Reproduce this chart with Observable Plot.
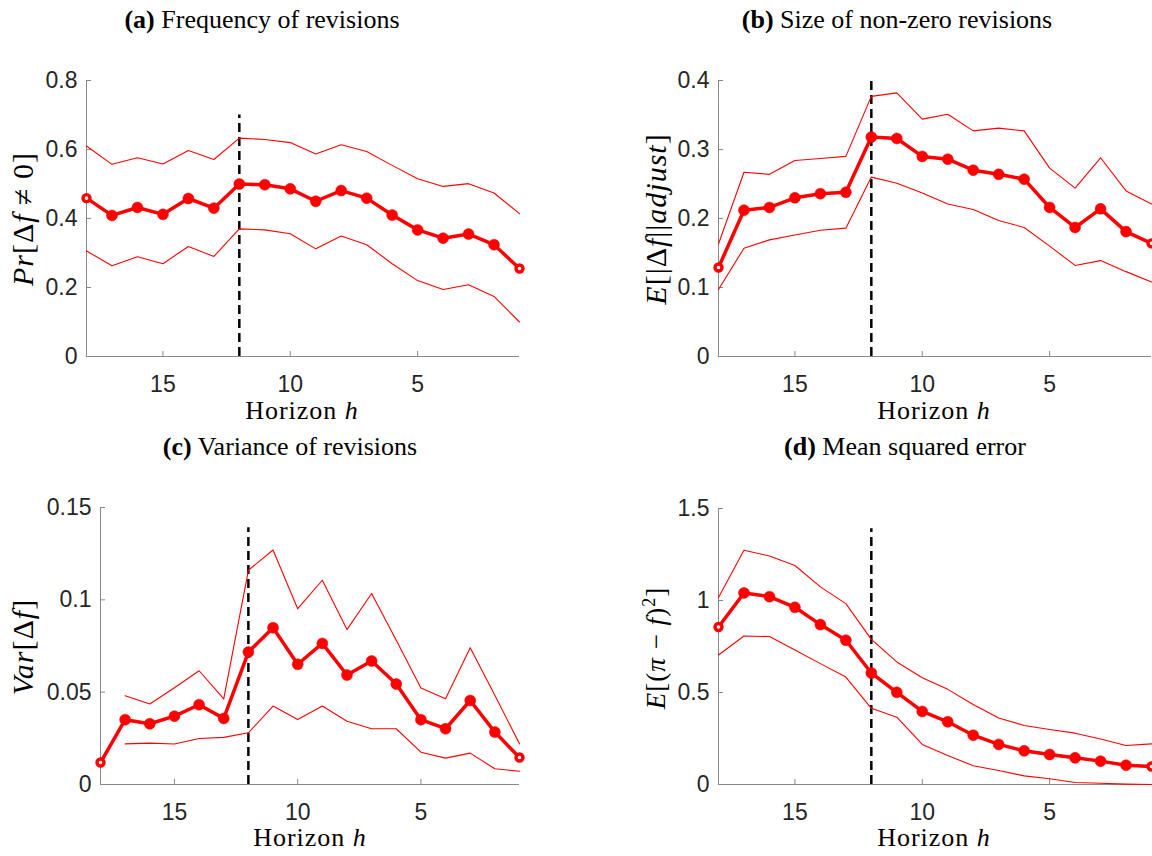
<!DOCTYPE html>
<html><head><meta charset="utf-8">
<script src="https://cdn.jsdelivr.net/npm/d3@7"></script>
<script src="https://cdn.jsdelivr.net/npm/@observablehq/plot@0.6"></script>
<style>
body{margin:0;background:#fff;}
#fig{position:relative;width:1152px;height:856px;overflow:hidden;background:#fff;}
.panel{position:absolute;}
.t{position:absolute;font-family:"Liberation Serif",serif;font-size:26px;color:#000;white-space:nowrap;transform:translate(-50%,-50%);line-height:0.9;}
.xl{letter-spacing:1px;}
.yl{transform:translate(-50%,-50%) rotate(-90deg);letter-spacing:1px;}
</style></head><body><div id="fig"></div>
<script>
// ---- data ----
const horizon = [18,17,16,15,14,13,12,11,10,9,8,7,6,5,4,3,2,1];
const xTicks = [15,10,5];
const breakHorizon = 12;

const freqMean  = [0.459,0.409,0.432,0.412,0.458,0.430,0.500,0.498,0.486,0.450,0.481,0.459,0.410,0.367,0.343,0.355,0.324,0.255];
const freqUpper = [0.610,0.557,0.576,0.558,0.597,0.571,0.633,0.629,0.620,0.587,0.614,0.594,0.554,0.515,0.493,0.501,0.474,0.414];
const freqLower = [0.306,0.263,0.289,0.269,0.319,0.290,0.370,0.367,0.356,0.312,0.349,0.324,0.269,0.220,0.194,0.208,0.174,0.100];
const freqTicks = [0,0.2,0.4,0.6,0.8];

const sizeMean  = [0.129,0.212,0.216,0.230,0.236,0.238,0.318,0.316,0.290,0.286,0.270,0.264,0.257,0.216,0.187,0.214,0.181,0.164];
const sizeUpper = [0.163,0.267,0.264,0.284,0.287,0.290,0.377,0.382,0.344,0.351,0.327,0.331,0.327,0.273,0.244,0.288,0.240,0.221];
const sizeLower = [0.097,0.157,0.169,0.176,0.183,0.186,0.260,0.251,0.237,0.221,0.213,0.197,0.187,0.160,0.132,0.139,0.123,0.108];
const sizeTicks = [0,0.1,0.2,0.3,0.4];

const varMean  = [0.0119,0.0351,0.0329,0.0370,0.0432,0.0358,0.0717,0.0849,0.0651,0.0764,0.0593,0.0669,0.0544,0.0351,0.0302,0.0455,0.0284,0.0146];
const varUpper = [null,0.0481,0.0436,0.0524,0.0616,0.0464,0.1160,0.1270,0.0952,0.1106,0.0839,0.1034,0.0781,0.0522,0.0464,0.0741,0.0483,0.0220];
const varLower = [null,0.0220,0.0224,0.0219,0.0249,0.0255,0.0280,0.0425,0.0352,0.0425,0.0343,0.0302,0.0302,0.0175,0.0143,0.0170,0.0085,0.0072];
const varTicks = [0,0.05,0.1,0.15];

const mseMean  = [0.856,1.041,1.021,0.963,0.869,0.784,0.606,0.501,0.397,0.341,0.268,0.218,0.183,0.163,0.145,0.127,0.105,0.098];
const mseUpper = [1.016,1.273,1.242,1.190,1.074,0.983,0.789,0.666,0.580,0.517,0.435,0.361,0.321,0.299,0.279,0.247,0.212,0.221];
const mseLower = [0.704,0.807,0.804,0.731,0.657,0.584,0.414,0.366,0.218,0.158,0.102,0.076,0.047,0.031,0.011,0.007,0.002,0.000];
const mseTicks = [0,0.5,1,1.5];

// ---- layout ----
const panels = [
  {mean:freqMean, upper:freqUpper, lower:freqLower, ticks:freqTicks, dashTop:0.70, left:0, top:60, mL:86, mR:57, mB:74,
   title:"<b>(a)</b> Frequency of revisions", tx:262, ty:20, xlx:302, xly:411, ylx:22, yly:219, ylfs:30,
   ylabel:"<i>Pr</i>[Δ<i>f</i> ≠ 0]"},
  {mean:sizeMean, upper:sizeUpper, lower:sizeLower, ticks:sizeTicks, dashTop:0.40, left:576, top:60, mL:142, mR:1, mB:74,
   title:"<b>(b)</b> Size of non-zero revisions", tx:897, ty:20, xlx:934, xly:411, ylx:655, yly:219, ylfs:30,
   ylabel:"<i>E</i>[|Δ<i>f</i>||<i>adjust</i>]"},
  {mean:varMean, upper:varUpper, lower:varLower, ticks:varTicks, dashTop:0.139, left:0, top:487, mL:100, mR:57, mB:73,
   title:"<b>(c)</b> Variance of revisions", tx:290, ty:447, xlx:310, xly:838, ylx:22, yly:647, ylfs:30,
   ylabel:"<i>Var</i>[Δ<i>f</i>]"},
  {mean:mseMean, upper:mseUpper, lower:mseLower, ticks:mseTicks, dashTop:1.39, left:576, top:488, mL:142, mR:1, mB:74,
   title:"<b>(d)</b> Mean squared error", tx:905, ty:447, xlx:934, xly:838, ylx:655, yly:648, ylfs:27,
   ylabel:"<i>E</i>[(<i>π</i> − <i>f</i>)<sup style=\"font-size:18px\">2</sup>]"}
];

const fig = document.getElementById("fig");
const W = 576, H = 370, mT = 20;

for (const p of panels) {
  const data = horizon.map((h, i) => ({h, m: p.mean[i], u: p.upper[i], l: p.lower[i]}));
  const ends = [data[0], data[data.length - 1]];
  const mids = data.slice(1, -1);
  const ymax = p.ticks[p.ticks.length - 1];
  const chart = Plot.plot({
    width: W, height: H,
    marginLeft: p.mL, marginRight: p.mR, marginTop: mT, marginBottom: p.mB,
    x: {domain: [18, 1]},
    y: {domain: [0, ymax]},
    style: {fontFamily: "'Liberation Sans', Arial, sans-serif", fontSize: "23px", color: "#262626", background: "transparent"},
    marks: [
      Plot.ruleY([0], {stroke: "#888", strokeWidth: 1}),
      Plot.ruleX([18], {y1: 0, y2: ymax, stroke: "#888", strokeWidth: 1}),
      Plot.axisX({ticks: xTicks, tickSize: -5, tickPadding: 24, stroke: "#888", fill: "#262626", label: null, tickFormat: String}),
      Plot.axisY({ticks: p.ticks, tickSize: -5, tickPadding: 14, stroke: "#888", fill: "#262626", label: null, tickFormat: String}),
      Plot.ruleX([breakHorizon], {y1: 0, y2: p.dashTop, stroke: "#000", strokeWidth: 2.5, strokeDasharray: "9,5"}),
      Plot.line(data, {x: "h", y: "u", stroke: "#ff0000", strokeWidth: 1.1}),
      Plot.line(data, {x: "h", y: "l", stroke: "#ff0000", strokeWidth: 1.1}),
      Plot.line(data, {x: "h", y: "m", stroke: "#ff0000", strokeWidth: 3.5}),
      Plot.dot(mids, {x: "h", y: "m", r: 5.5, fill: "#ff0000", stroke: "#ff0000", strokeWidth: 0.5}),
      Plot.dot(ends, {x: "h", y: "m", r: 3.5, fill: "#fff", stroke: "#ff0000", strokeWidth: 3.4})
    ]
  });
  chart.classList.add("panel");
  chart.style.left = p.left + "px";
  chart.style.top = p.top + "px";
  fig.appendChild(chart);

  const add = (html, x, y, cls, fs) => {
    const d = document.createElement("div");
    d.className = "t " + cls;
    d.innerHTML = html;
    d.style.left = x + "px";
    d.style.top = y + "px";
    if (fs) d.style.fontSize = fs + "px";
    fig.appendChild(d);
  };
  add(p.title, p.tx, p.ty, "title");
  add("Horizon <i>h</i>", p.xlx, p.xly, "xl");
  add(p.ylabel, p.ylx, p.yly, "yl", p.ylfs);
}
</script>
</body></html>
